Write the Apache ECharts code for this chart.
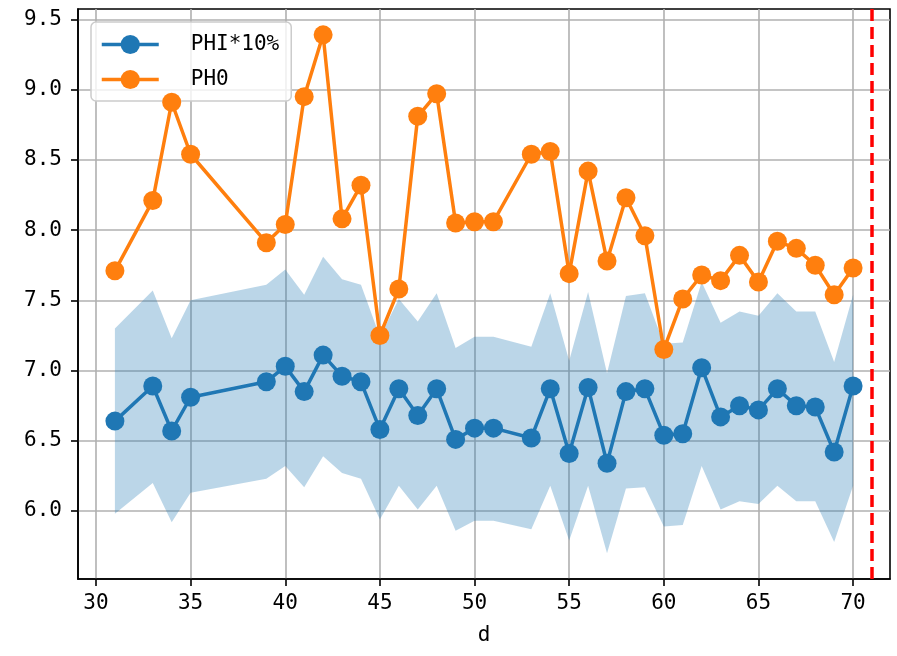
<!DOCTYPE html>
<html>
<head>
<meta charset="utf-8">
<script src="https://cdn.jsdelivr.net/npm/echarts@6/dist/echarts.min.js"></script>
<style>html,body{margin:0;padding:0;background:#fff;}#c{width:897px;height:656px;}</style>
</head>
<body>
<div id="c"></div>
<script>
const xs = [31,33,34,35,39,40,41,42,43,44,45,46,47,48,49,50,51,53,54,55,56,57,58,59,60,61,62,63,64,65,66,67,68,69,70];
const phi = [6.64,6.89,6.57,6.81,6.92,7.03,6.85,7.11,6.96,6.92,6.58,6.87,6.68,6.87,6.51,6.59,6.59,6.52,6.87,6.41,6.88,6.34,6.85,6.87,6.54,6.55,7.02,6.67,6.75,6.72,6.87,6.75,6.74,6.42,6.89];
const ph0 = [7.71,8.21,8.91,8.54,7.91,8.04,8.95,9.39,8.08,8.32,7.25,7.58,8.81,8.97,8.05,8.06,8.06,8.54,8.56,7.69,8.42,7.78,8.23,7.96,7.15,7.51,7.68,7.64,7.82,7.63,7.92,7.87,7.75,7.54,7.73];
const bandUpper = [7.30,7.57,7.23,7.50,7.61,7.72,7.54,7.81,7.65,7.61,7.24,7.51,7.35,7.55,7.16,7.24,7.24,7.17,7.55,7.07,7.56,6.98,7.53,7.55,7.19,7.20,7.63,7.34,7.42,7.39,7.55,7.42,7.42,7.06,7.54];
const bandLower = [5.98,6.20,5.92,6.13,6.23,6.32,6.17,6.39,6.27,6.23,5.94,6.18,6.01,6.18,5.86,5.93,5.93,5.87,6.18,5.79,6.18,5.70,6.16,6.17,5.89,5.90,6.32,6.01,6.07,6.05,6.18,6.07,6.07,5.78,6.18];
const vlineX = 71;
const xTicks = [30,35,40,45,50,55,60,65,70];
const yTicks = [6.0,6.5,7.0,7.5,8.0,8.5,9.0,9.5];

const FONT = '"DejaVu Sans Mono", monospace';
const pair = arr => xs.map((x, i) => [x, arr[i]]);
const bandData = xs.map((x, i) => [x, bandLower[i], bandUpper[i]]);

const chart = echarts.init(document.getElementById('c'), null, {renderer: 'canvas'});
chart.setOption({
  animation: false,
  backgroundColor: '#fff',
  grid: {left: 78, top: 9, width: 812, height: 570, show: true, borderColor: '#000', borderWidth: 1.6, backgroundColor: 'transparent'},
  legend: {
    left: 91, top: 22, orient: 'vertical',
    itemWidth: 57, itemHeight: 24, itemGap: 14,
    padding: [12, 12, 11, 9],
    backgroundColor: 'rgba(255,255,255,0.8)', borderColor: '#cccccc', borderWidth: 1.5, borderRadius: 5,
    lineStyle: {width: 3.5},
    data: ['PHI*10%', 'PH0'],
    formatter: '{a|{name}}',
    textStyle: {fontFamily: FONT, fontSize: 21, color: '#000', rich: {a: {fontFamily: FONT, fontSize: 21, height: 24, color: '#000', padding: [0, 0, 0, 27]}}}
  },
  xAxis: {
    type: 'value', min: 29.05, max: 71.95, minInterval: 5, maxInterval: 5,
    name: 'd', nameLocation: 'middle', nameGap: 46,
    nameTextStyle: {fontFamily: FONT, fontSize: 21, color: '#000'},
    axisLine: {show: true, onZero: false, lineStyle: {color: '#000', width: 1.6}},
    axisTick: {show: true, length: 7, customValues: xTicks, lineStyle: {color: '#000', width: 1.6}},
    axisLabel: {margin: 14, fontFamily: FONT, fontSize: 21, color: '#000', customValues: xTicks,
      formatter: v => String(Math.round(v))},
    splitLine: {show: true, lineStyle: {color: '#b0b0b0', width: 1.6}}
  },
  yAxis: {
    type: 'value', min: 5.516, max: 9.574, minInterval: 0.5, maxInterval: 0.5,
    axisLine: {show: true, onZero: false, lineStyle: {color: '#000', width: 1.6}},
    axisTick: {show: true, length: 7, customValues: yTicks, lineStyle: {color: '#000', width: 1.6}},
    axisLabel: {margin: 16, fontFamily: FONT, fontSize: 21, color: '#000', customValues: yTicks,
      formatter: v => v.toFixed(1)},
    splitLine: {show: true, lineStyle: {color: '#b0b0b0', width: 1.6}}
  },
  series: [
    {
      name: 'band', type: 'custom', data: bandData, silent: true, z: 1,
      encode: {x: 0, y: [1, 2]},
      renderItem: function (params, api) {
        if (params.dataIndex !== 0) return null;
        const top = bandData.map(d => api.coord([d[0], d[2]]));
        const bot = bandData.map(d => api.coord([d[0], d[1]])).reverse();
        return {
          type: 'polygon',
          shape: {points: top.concat(bot)},
          style: {fill: 'rgba(31,119,180,0.3)', stroke: 'none'}
        };
      }
    },
    {
      name: 'PHI*10%', type: 'line', data: pair(phi),
      symbol: 'circle', symbolSize: 19, showAllSymbol: true,
      itemStyle: {color: '#1f77b4', borderWidth: 0},
      lineStyle: {color: '#1f77b4', width: 3.5}, z: 3
    },
    {
      name: 'PH0', type: 'line', data: pair(ph0),
      symbol: 'circle', symbolSize: 19, showAllSymbol: true,
      itemStyle: {color: '#ff7f0e', borderWidth: 0},
      lineStyle: {color: '#ff7f0e', width: 3.5}, z: 4,
      markLine: {
        silent: true, symbol: ['none', 'none'], label: {show: false},
        lineStyle: {color: '#ff0000', type: [12, 6], width: 3.5},
        data: [{xAxis: vlineX}]
      }
    }
  ]
});
</script>
</body>
</html>
